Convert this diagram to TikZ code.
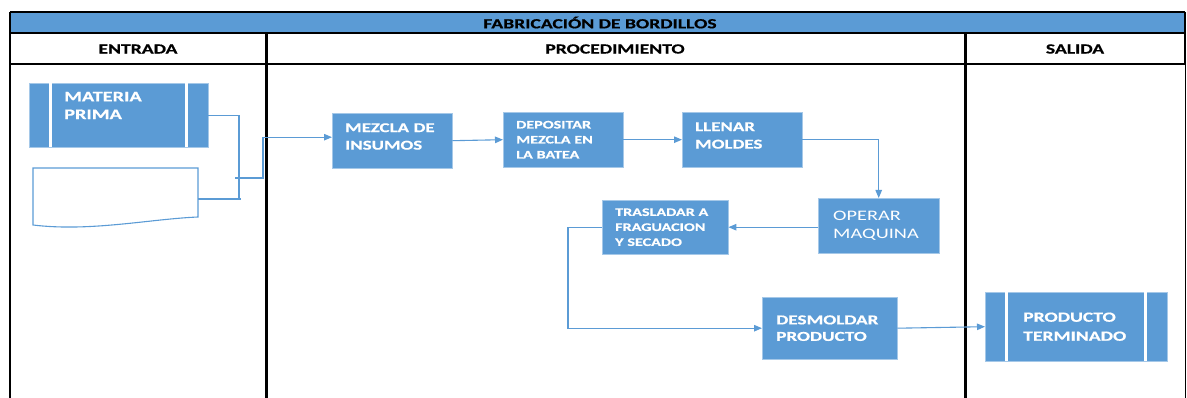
\documentclass[tikz,border=0pt]{standalone}
\usepackage{fontspec}
\setmainfont{Carlito}[FakeStretch=1.4, BoldFeatures={FakeBold=0.6}]
\usepackage{xcolor}
\usetikzlibrary{arrows.meta}
\definecolor{flow-blue}{HTML}{5B9BD5}
\tikzset{
    proc-box/.style = {fill=flow-blue, draw=flow-blue!55!white, thin, rectangle, anchor=north west, text=white, align=left, inner xsep=13pt, inner ysep=0pt, font=\bfseries\fontsize{13.5}{17.5}\selectfont},
    small-text/.style = {font=\bfseries\fontsize{11.5}{15}\selectfont},
    flow-line/.style = {draw=flow-blue, line width=1.1pt},
    flow-arrow/.style = {flow-line, -{Triangle[length=8pt,width=6.5pt]}},
    table-line/.style = {draw=black, line width=2pt},
    head-text/.style = {font=\bfseries\fontsize{14}{17}\selectfont},
    gap-line/.style = {draw=white, line width=3pt},
}

\begin{document}
\begin{tikzpicture}[x=1pt,y=-1pt]
\useasboundingbox (0,0) rectangle (1187,398);
\fill[flow-blue] (10,12) rectangle (1185,33);
\node[head-text] (titulo) at (600,22.5) {FABRICACIÓN DE BORDILLOS};
\node[head-text] (entrada) at (138,49) {ENTRADA};
\node[head-text] (procedimiento) at (615,49) {PROCEDIMIENTO};
\node[head-text] (salida) at (1075,49) {SALIDA};
\draw[line width=1.3pt] (10,12) -- (1185,12);
\draw[table-line] (10,33) -- (1185,33);
\draw[table-line] (10,64) -- (1185,64);
\draw[line width=2.5pt] (10,12) -- (10,398);
\draw[line width=3pt] (266,33) -- (266,398);
\draw[line width=3pt] (965,33) -- (965,398);
\draw[line width=2pt] (1185,12) -- (1185,64);
\draw[line width=1pt] (1185,64) -- (1185,398);

\node[proc-box, minimum width=179pt, minimum height=64pt] (materia) at (29,83) {};
\draw[gap-line] ([xshift=21.5pt]materia.north west) -- ([xshift=21.5pt]materia.south west);
\draw[gap-line] ([xshift=-21.5pt]materia.north east) -- ([xshift=-21.5pt]materia.south east);
\node[anchor=north west, inner sep=0pt, text=white, align=left, font=\bfseries\fontsize{14.5}{17.7}\selectfont] (materia-text) at (64,91.7) {MATERIA\\PRIMA};

\draw[flow-line] (33,168) -- (198,168) -- (198,217) .. controls (150,219) and (90,232) .. (33,225) -- cycle;
\coordinate (doc-out) at (198,199);
\coordinate (join) at (239,200);
\coordinate (merge) at (235,178);

\node[proc-box, text width=94pt, minimum height=55pt, text depth=26pt] (mezcla) at (332,113) {MEZCLA DE\\INSUMOS};
\node[proc-box, small-text, text width=94pt, minimum height=55pt] (depositar) at (503,112) {DEPOSITAR\\MEZCLA EN\\LA BATEA};
\node[proc-box, text width=94pt, minimum height=55pt, text depth=26pt] (llenar) at (682,112) {LLENAR\\MOLDES};
\node[proc-box, inner xsep=15pt, text width=91pt, minimum height=55pt, font=\fontsize{14.5}{18}\selectfont] (operar) at (818,198) {OPERAR\\MAQUINA};
\node[proc-box, small-text, text width=100pt, minimum height=54pt] (trasladar) at (602,200) {TRASLADAR A\\FRAGUACION\\Y SECADO};
\node[proc-box, inner xsep=14pt, text width=107pt, minimum height=62pt, font=\bfseries\fontsize{13.7}{16.5}\selectfont] (desmoldar) at (762,297) {DESMOLDAR\\PRODUCTO};
\node[proc-box, inner xsep=38pt, text width=106pt, minimum height=69pt, font=\bfseries\fontsize{14}{19}\selectfont] (producto) at (985,292) {PRODUCTO\\TERMINADO};
\draw[gap-line] ([xshift=21.5pt]producto.north west) -- ([xshift=21.5pt]producto.south west);
\draw[gap-line] ([xshift=-21.5pt]producto.north east) -- ([xshift=-21.5pt]producto.south east);

\draw[flow-line] (materia.east) -| (join);
\draw[flow-line] (doc-out) -- (241,199);
\draw[flow-arrow] (merge) -- (263,178) |- ([yshift=3.5pt]mezcla.west);
\draw[flow-arrow] (mezcla.east) -- (depositar.west);
\draw[flow-arrow] (depositar.east) -- (llenar.west);
\draw[flow-arrow] (llenar.east) -| (operar.north);
\draw[flow-arrow] (trasladar.east -| operar.west) -- (trasladar.east);
\draw[flow-arrow] (trasladar.west) -- ++(-34,0) |- (desmoldar.west);
\draw[flow-arrow] (desmoldar.east) -- (producto.west);
\end{tikzpicture}
\end{document}
